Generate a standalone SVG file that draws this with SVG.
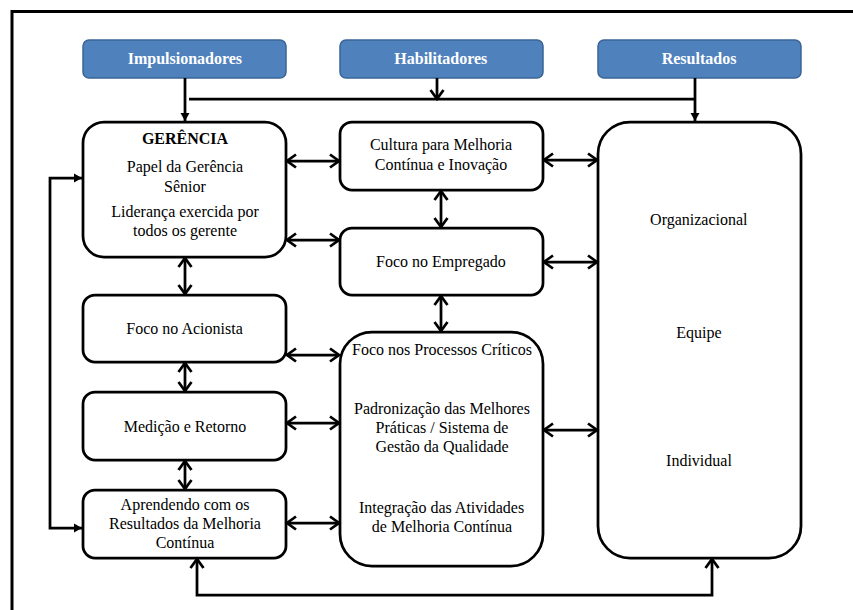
<svg xmlns="http://www.w3.org/2000/svg" width="853" height="610" viewBox="0 0 853 610">
<style>
.nbox{fill:#fff;stroke:#000;stroke-width:2.75}
.hbox{fill:#4F81BD;stroke:#3A6496;stroke-width:1.5}
.conn{fill:none;stroke:#000;stroke-width:2.75}
</style>
<defs>
<marker id="open" markerUnits="userSpaceOnUse" markerWidth="14" markerHeight="16" refX="11" refY="8" orient="auto-start-reverse" overflow="visible">
<path d="M2,1.5 L11,8 L2,14.5" fill="none" stroke="#000" stroke-width="2.75"/>
</marker>
<marker id="solid" markerUnits="userSpaceOnUse" markerWidth="10" markerHeight="10" refX="8" refY="4.5" orient="auto-start-reverse" overflow="visible">
<path d="M0,0 L8,4.5 L0,9 z" fill="#000"/>
</marker>
</defs>
<rect width="853" height="610" fill="#fff"/>
<path d="M12,610 V11.5 H853" fill="none" stroke="#000" stroke-width="3"/>

<g id="impulsionadores">
<rect class="hbox" x="83" y="40" width="203" height="38" rx="6"/>
<text x="127.7" y="64" font-family="Liberation Serif" font-size="16" font-weight="bold" fill="#fff">Impulsionadores</text>
</g>
<g id="habilitadores">
<rect class="hbox" x="340" y="40" width="203" height="38" rx="6"/>
<text x="394.3" y="64" font-family="Liberation Serif" font-size="16" font-weight="bold" fill="#fff">Habilitadores</text>
</g>
<g id="resultados">
<rect class="hbox" x="598" y="40" width="203" height="38" rx="6"/>
<text x="661.7" y="64" font-family="Liberation Serif" font-size="16" font-weight="bold" fill="#fff">Resultados</text>
</g>

<g id="gerencia">
<rect class="nbox" x="83" y="122" width="203" height="135" rx="21"/>
<text x="141.9" y="144" font-family="Liberation Serif" font-size="16" font-weight="bold">GERÊNCIA</text>
<text x="126.8" y="172" font-family="Liberation Serif" font-size="16">Papel da Gerência</text>
<text x="164.1" y="192" font-family="Liberation Serif" font-size="16">Sênior</text>
<text x="111.3" y="217" font-family="Liberation Serif" font-size="16">Liderança exercida por</text>
<text x="133" y="236" font-family="Liberation Serif" font-size="16">todos os gerente</text>
</g>
<g id="cultura">
<rect class="nbox" x="340" y="122" width="203" height="68" rx="12"/>
<text x="369.9" y="150" font-family="Liberation Serif" font-size="16">Cultura para Melhoria</text>
<text x="374.8" y="170" font-family="Liberation Serif" font-size="16">Contínua e Inovação</text>
</g>
<g id="empregado">
<rect class="nbox" x="340" y="228" width="203" height="67" rx="12"/>
<text x="376.1" y="267" font-family="Liberation Serif" font-size="16">Foco no Empregado</text>
</g>
<g id="acionista">
<rect class="nbox" x="83" y="295" width="203" height="67" rx="12"/>
<text x="126.3" y="334" font-family="Liberation Serif" font-size="16">Foco no Acionista</text>
</g>
<g id="medicao">
<rect class="nbox" x="83" y="392" width="203" height="68" rx="12"/>
<text x="123.7" y="432" font-family="Liberation Serif" font-size="16">Medição e Retorno</text>
</g>
<g id="aprendendo">
<rect class="nbox" x="83" y="490" width="203" height="68" rx="12"/>
<text x="120.6" y="510" font-family="Liberation Serif" font-size="16">Aprendendo com os</text>
<text x="109" y="529" font-family="Liberation Serif" font-size="16">Resultados da Melhoria</text>
<text x="155.7" y="548" font-family="Liberation Serif" font-size="16">Contínua</text>
</g>
<g id="processos">
<rect class="nbox" x="340" y="332" width="203" height="234" rx="32"/>
<text x="352" y="355" font-family="Liberation Serif" font-size="16">Foco nos Processos Críticos</text>
<text x="354" y="414" font-family="Liberation Serif" font-size="16">Padronização das Melhores</text>
<text x="375.6" y="433" font-family="Liberation Serif" font-size="16">Práticas / Sistema de</text>
<text x="375.4" y="452" font-family="Liberation Serif" font-size="16">Gestão da Qualidade</text>
<text x="358.9" y="513" font-family="Liberation Serif" font-size="16">Integração das Atividades</text>
<text x="371.8" y="532" font-family="Liberation Serif" font-size="16">de Melhoria Contínua</text>
</g>
<g id="resultados-box">
<rect class="nbox" x="598" y="122" width="203" height="436" rx="32"/>
<text x="650.1" y="225" font-family="Liberation Serif" font-size="16">Organizacional</text>
<text x="676.3" y="338" font-family="Liberation Serif" font-size="16">Equipe</text>
<text x="666.1" y="466" font-family="Liberation Serif" font-size="16">Individual</text>
</g>

<g id="connectors">
<path class="conn" d="M185,78 V121" marker-end="url(#solid)"/>
<path class="conn" d="M437,78 V99" marker-end="url(#open)"/>
<path class="conn" d="M695,78 V121" marker-end="url(#solid)"/>
<path class="conn" d="M189,99 H695"/>
<path class="conn" d="M287,161 H339" marker-start="url(#open)" marker-end="url(#open)"/>
<path class="conn" d="M287,240 H339" marker-start="url(#open)" marker-end="url(#open)"/>
<path class="conn" d="M544,160 H597" marker-start="url(#open)" marker-end="url(#open)"/>
<path class="conn" d="M544,262 H597" marker-start="url(#open)" marker-end="url(#open)"/>
<path class="conn" d="M441,191 V227" marker-start="url(#open)" marker-end="url(#open)"/>
<path class="conn" d="M441,296 V331" marker-start="url(#open)" marker-end="url(#open)"/>
<path class="conn" d="M185,258 V294" marker-start="url(#open)" marker-end="url(#open)"/>
<path class="conn" d="M185,363 V391" marker-start="url(#open)" marker-end="url(#open)"/>
<path class="conn" d="M185,461 V489" marker-start="url(#open)" marker-end="url(#open)"/>
<path class="conn" d="M287,355 H339" marker-start="url(#open)" marker-end="url(#open)"/>
<path class="conn" d="M287,423 H339" marker-start="url(#open)" marker-end="url(#open)"/>
<path class="conn" d="M287,523 H339" marker-start="url(#open)" marker-end="url(#open)"/>
<path class="conn" d="M544,430 H597" marker-start="url(#open)" marker-end="url(#open)"/>
<path class="conn" d="M82,178 H50 V528 H82" marker-start="url(#solid)" marker-end="url(#solid)"/>
<path class="conn" d="M197,559 V595 H712 V559" marker-start="url(#open)" marker-end="url(#open)"/>
</g>
</svg>
